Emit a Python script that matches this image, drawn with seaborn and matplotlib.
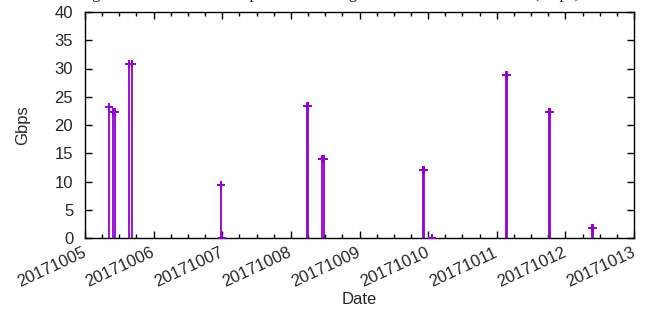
import numpy as np
import pandas as pd
import seaborn as sns
import matplotlib
matplotlib.use("Agg")
import matplotlib.pyplot as plt
import matplotlib.dates as mdates

# transfer samples (time, Gbps)
sample_times = [
    "2017-10-05 08:24",
    "2017-10-05 09:42", "2017-10-05 10:30",
    "2017-10-05 15:30", "2017-10-05 16:18",
    "2017-10-06 23:44", "2017-10-06 23:46",
    "2017-10-08 05:30", "2017-10-08 06:00",
    "2017-10-08 10:48", "2017-10-08 11:42",
    "2017-10-09 22:06", "2017-10-09 22:36", "2017-10-10 01:24",
    "2017-10-11 03:18", "2017-10-11 03:42",
    "2017-10-11 18:06", "2017-10-11 18:42",
    "2017-10-12 09:12", "2017-10-12 09:30",
]
sample_gbps = [
    23.2,
    22.3, 22.3,
    30.8, 30.8,
    9.3, 0.0,
    23.3, 23.3,
    13.9, 13.9,
    12.1, 12.1, 0.0,
    28.9, 28.9,
    22.3, 22.3,
    1.8, 1.8,
]
day_ticks = pd.date_range("2017-10-05", "2017-10-13", freq="D")

chart_title = "Avg transfer rate of each upload onto the grid sites over each hour in (Gbps)"

df = pd.DataFrame({"time": pd.to_datetime(sample_times), "gbps": sample_gbps})

sns.set_style("ticks")
plt.rcParams['font.family'] = ['Liberation Sans', 'DejaVu Sans']
plt.rcParams['font.size'] = 12

violet = "#9400D3"

fig = plt.figure(figsize=(6.46, 3.13), dpi=100)
ax = fig.add_axes([85/646, 1 - 238/313, (634 - 85)/646, (238 - 12)/313])

sns.scatterplot(data=df, x="time", y="gbps", marker="+", s=28, linewidth=1.4,
                color=violet, ax=ax, zorder=3)
ax.vlines(df["time"], 0, df["gbps"], color=violet, linewidth=1.3, zorder=2)

ax.set_xlim(day_ticks[0], day_ticks[-1])
ax.set_ylim(0, 40)
ax.set_yticks(np.arange(0, 41, 5))
ax.xaxis.set_major_locator(mdates.DayLocator())
ax.xaxis.set_major_formatter(mdates.DateFormatter("%Y%m%d"))
ax.xaxis.set_minor_locator(mdates.HourLocator(byhour=[6, 12, 18]))

ax.tick_params(which="both", direction="in", top=True, right=True, color="black")
ax.tick_params(which="major", length=5, width=1)
ax.tick_params(which="minor", length=3, width=1)
ax.tick_params(axis="y", pad=8.5, labelsize=12)
ax.tick_params(axis="x", pad=10, labelsize=12)
for lab in ax.get_xticklabels():
    lab.set_rotation(25)
    lab.set_ha("right")
    lab.set_va("center")
    lab.set_rotation_mode("anchor")

for sp in ax.spines.values():
    sp.set_visible(True)
    sp.set_linewidth(1)
    sp.set_color("black")

ax.set_xlabel("Date", fontsize=12, labelpad=0)
ax.set_ylabel("Gbps", fontsize=12, labelpad=0)
ax.xaxis.set_label_coords((359 - 85)/549, -(292 - 238)/226)
ax.yaxis.set_label_coords(-(85 - 30)/549, 0.5)

# title sits mostly above the canvas, as in the original export
fig.text(0.505, 1 + 2/313, chart_title, ha="center", va="baseline",
         family="Liberation Serif", fontsize=12)

fig.savefig("out.png", dpi=100)
